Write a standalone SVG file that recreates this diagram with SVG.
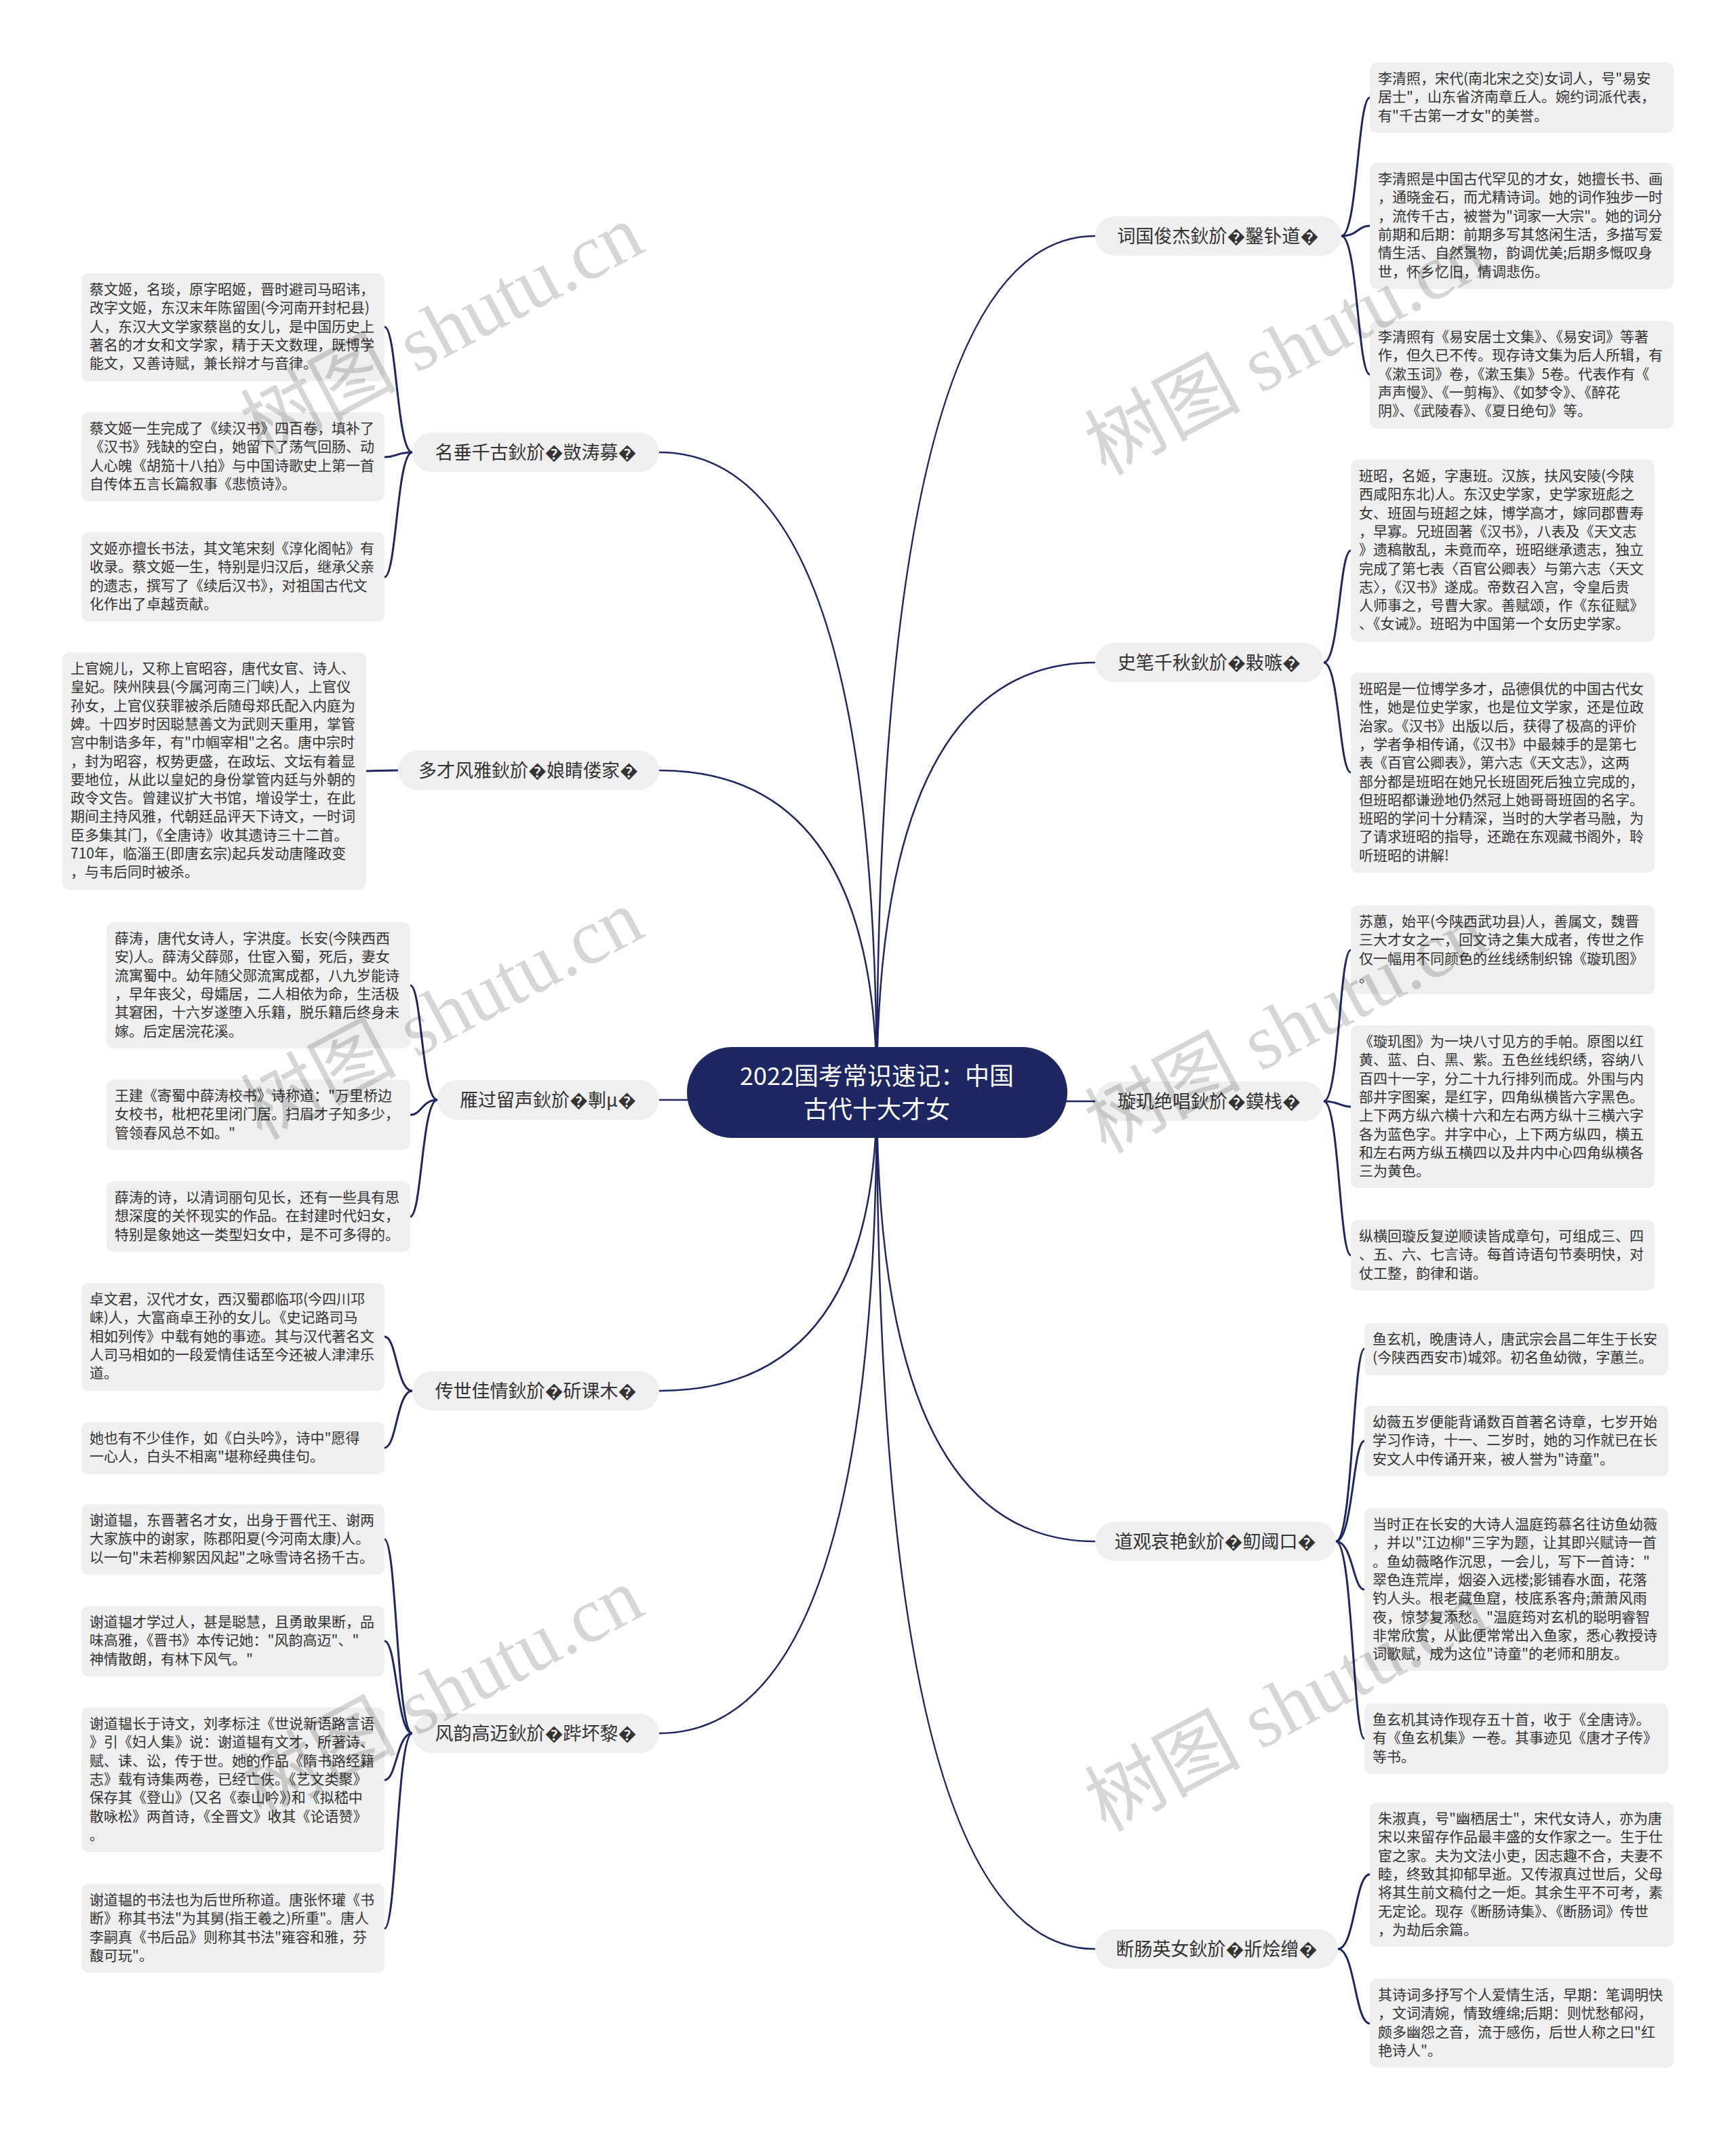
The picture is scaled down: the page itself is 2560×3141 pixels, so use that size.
<svg xmlns="http://www.w3.org/2000/svg" width="2560" height="3141" viewBox="0 0 2560 3141">
<style>
.bx{fill:#efefef}
.t{font-family:"Noto Sans CJK SC","Noto Sans",sans-serif;font-size:21px;fill:#333}
.lb{fill:#efefef}
.lt{font-family:"Noto Sans CJK SC","Noto Sans",sans-serif;font-size:27px;fill:#333;text-anchor:middle}
.c{fill:none;stroke:#1e2761;stroke-width:2.5}
.b{fill:none;stroke:#1e2761;stroke-width:3}
.wm{font-family:"Liberation Serif","Noto Sans CJK SC",serif;font-size:115px;fill:#000;fill-opacity:0.16}
</style>
<rect width="2560" height="3141" fill="#fff"/>
<g id="connectors">
<path class="c" d="M1293 1611 Q1293 348 1615 348"/>
<path class="c" d="M1293 1611 Q1293 977 1615 977"/>
<path class="c" d="M1293 1611 Q1293 1624 1615 1624"/>
<path class="c" d="M1293 1611 Q1293 2273 1615 2273"/>
<path class="c" d="M1293 1611 Q1293 2874 1615 2874"/>
<path class="c" d="M1293 1611 Q1293 667 972 667"/>
<path class="c" d="M1293 1611 Q1293 1136 972 1136"/>
<path class="c" d="M1293 1611 Q1293 1622 972 1622"/>
<path class="c" d="M1293 1611 Q1293 2051 972 2051"/>
<path class="c" d="M1293 1611 Q1293 2556 972 2556"/>
<path class="b" d="M1978 348 C2002 348 2002 144 2020 144"/>
<path class="b" d="M1978 348 C2002 348 2002 333 2020 333"/>
<path class="b" d="M1978 348 C2002 348 2002 552 2020 552"/>
<path class="b" d="M1952 977 C1975 977 1975 812 1992 812"/>
<path class="b" d="M1952 977 C1975 977 1975 1139 1992 1139"/>
<path class="b" d="M1952 1624 C1975 1624 1975 1401 1992 1401"/>
<path class="b" d="M1952 1624 C1975 1624 1975 1632 1992 1632"/>
<path class="b" d="M1952 1624 C1975 1624 1975 1851 1992 1851"/>
<path class="b" d="M1970 2273 C1995 2273 1995 1989 2012 1989"/>
<path class="b" d="M1970 2273 C1995 2273 1995 2125 2012 2125"/>
<path class="b" d="M1970 2273 C1995 2273 1995 2344 2012 2344"/>
<path class="b" d="M1970 2273 C1995 2273 1995 2564 2012 2564"/>
<path class="b" d="M1973 2874 C1998 2874 1998 2764 2020 2764"/>
<path class="b" d="M1973 2874 C1998 2874 1998 2984 2020 2984"/>
<path class="b" d="M608 667 C585 667 585 482 567 482"/>
<path class="b" d="M608 667 C585 667 585 674 567 674"/>
<path class="b" d="M608 667 C585 667 585 851 567 851"/>
<path class="b" d="M587 1136 C560 1136 560 1137 540 1137"/>
<path class="b" d="M645 1622 C622 1622 622 1453 605 1453"/>
<path class="b" d="M645 1622 C622 1622 622 1644 605 1644"/>
<path class="b" d="M645 1622 C622 1622 622 1794 605 1794"/>
<path class="b" d="M608 2051 C585 2051 585 1971 567 1971"/>
<path class="b" d="M608 2051 C585 2051 585 2135 567 2135"/>
<path class="b" d="M608 2556 C585 2556 585 2270 567 2270"/>
<path class="b" d="M608 2556 C585 2556 585 2420 567 2420"/>
<path class="b" d="M608 2556 C585 2556 585 2625 567 2625"/>
<path class="b" d="M608 2556 C585 2556 585 2844 567 2844"/>
</g>
<g id="center">
<rect x="1013" y="1544" width="561" height="134" rx="67" fill="#1e2761"/>
<text x="1293" y="1600" font-family="Noto Sans CJK SC,Noto Sans,sans-serif" font-size="36" fill="#fff" text-anchor="middle">2022国考常识速记：中国</text>
<text x="1293" y="1649" font-family="Noto Sans CJK SC,Noto Sans,sans-serif" font-size="36" fill="#fff" text-anchor="middle">古代十大才女</text>
</g>
<g id="r1">
<rect class="lb" x="1615" y="319" width="363" height="58" rx="29"/>
<text class="lt" x="1796" y="358">词国俊杰鈥斺�鑿钋道�</text>
<rect class="bx" x="2020" y="92" width="448" height="104" rx="10"/>
<text class="t" x="2032" y="123"><tspan x="2032">李清照，宋代(南北宋之交)女词人，号"易安</tspan><tspan x="2032" dy="27.3">居士"，山东省济南章丘人。婉约词派代表，</tspan><tspan x="2032" dy="27.3">有"千古第一才女"的美誉。</tspan></text>
<rect class="bx" x="2020" y="240" width="448" height="186" rx="10"/>
<text class="t" x="2032" y="271"><tspan x="2032">李清照是中国古代罕见的才女，她擅长书、画</tspan><tspan x="2032" dy="27.3">，通晓金石，而尤精诗词。她的词作独步一时</tspan><tspan x="2032" dy="27.3">，流传千古，被誉为"词家一大宗"。她的词分</tspan><tspan x="2032" dy="27.3">前期和后期：前期多写其悠闲生活，多描写爱</tspan><tspan x="2032" dy="27.3">情生活、自然景物，韵调优美;后期多慨叹身</tspan><tspan x="2032" dy="27.3">世，怀乡忆旧，情调悲伤。</tspan></text>
<rect class="bx" x="2020" y="473" width="448" height="159" rx="10"/>
<text class="t" x="2032" y="504"><tspan x="2032">李清照有《易安居士文集》、《易安词》等著</tspan><tspan x="2032" dy="27.3">作，但久已不传。现存诗文集为后人所辑，有</tspan><tspan x="2032" dy="27.3">《漱玉词》卷，《漱玉集》5卷。代表作有《</tspan><tspan x="2032" dy="27.3">声声慢》、《一剪梅》、《如梦令》、《醉花</tspan><tspan x="2032" dy="27.3">阴》、《武陵春》、《夏日绝句》等。</tspan></text>
</g>
<g id="r2">
<rect class="lb" x="1615" y="948" width="337" height="58" rx="29"/>
<text class="lt" x="1783" y="987">史笔千秋鈥斺�敤嗾�</text>
<rect class="bx" x="1992" y="678" width="448" height="268" rx="10"/>
<text class="t" x="2004" y="709"><tspan x="2004">班昭，名姬，字惠班。汉族，扶风安陵(今陕</tspan><tspan x="2004" dy="27.3">西咸阳东北)人。东汉史学家，史学家班彪之</tspan><tspan x="2004" dy="27.3">女、班固与班超之妹，博学高才，嫁同郡曹寿</tspan><tspan x="2004" dy="27.3">，早寡。兄班固著《汉书》，八表及《天文志</tspan><tspan x="2004" dy="27.3">》遗稿散乱，未竟而卒，班昭继承遗志，独立</tspan><tspan x="2004" dy="27.3">完成了第七表〈百官公卿表〉与第六志〈天文</tspan><tspan x="2004" dy="27.3">志〉，《汉书》遂成。帝数召入宫，令皇后贵</tspan><tspan x="2004" dy="27.3">人师事之，号曹大家。善赋颂，作《东征赋》</tspan><tspan x="2004" dy="27.3">、《女诫》。班昭为中国第一个女历史学家。</tspan></text>
<rect class="bx" x="1992" y="992" width="448" height="295" rx="10"/>
<text class="t" x="2004" y="1023"><tspan x="2004">班昭是一位博学多才，品德俱优的中国古代女</tspan><tspan x="2004" dy="27.3">性，她是位史学家，也是位文学家，还是位政</tspan><tspan x="2004" dy="27.3">治家。《汉书》出版以后，获得了极高的评价</tspan><tspan x="2004" dy="27.3">，学者争相传诵，《汉书》中最棘手的是第七</tspan><tspan x="2004" dy="27.3">表《百官公卿表》，第六志《天文志》，这两</tspan><tspan x="2004" dy="27.3">部分都是班昭在她兄长班固死后独立完成的，</tspan><tspan x="2004" dy="27.3">但班昭都谦逊地仍然冠上她哥哥班固的名字。</tspan><tspan x="2004" dy="27.3">班昭的学问十分精深，当时的大学者马融，为</tspan><tspan x="2004" dy="27.3">了请求班昭的指导，还跪在东观藏书阁外，聆</tspan><tspan x="2004" dy="27.3">听班昭的讲解!</tspan></text>
</g>
<g id="r3">
<rect class="lb" x="1615" y="1595" width="337" height="58" rx="29"/>
<text class="lt" x="1783" y="1634">璇玑绝唱鈥斺�鏌栈�</text>
<rect class="bx" x="1992" y="1335" width="448" height="131" rx="10"/>
<text class="t" x="2004" y="1366"><tspan x="2004">苏蕙，始平(今陕西武功县)人，善属文，魏晋</tspan><tspan x="2004" dy="27.3">三大才女之一，回文诗之集大成者，传世之作</tspan><tspan x="2004" dy="27.3">仅一幅用不同颜色的丝线绣制织锦《璇玑图》</tspan><tspan x="2004" dy="27.3">。</tspan></text>
<rect class="bx" x="1992" y="1512" width="448" height="240" rx="10"/>
<text class="t" x="2004" y="1543"><tspan x="2004">《璇玑图》为一块八寸见方的手帕。原图以红</tspan><tspan x="2004" dy="27.3">黄、蓝、白、黑、紫。五色丝线织绣，容纳八</tspan><tspan x="2004" dy="27.3">百四十一字，分二十九行排列而成。外围与内</tspan><tspan x="2004" dy="27.3">部井字图案，是红字，四角纵横皆六字黑色。</tspan><tspan x="2004" dy="27.3">上下两方纵六横十六和左右两方纵十三横六字</tspan><tspan x="2004" dy="27.3">各为蓝色字。井字中心，上下两方纵四，横五</tspan><tspan x="2004" dy="27.3">和左右两方纵五横四以及井内中心四角纵横各</tspan><tspan x="2004" dy="27.3">三为黄色。</tspan></text>
<rect class="bx" x="1992" y="1799" width="448" height="104" rx="10"/>
<text class="t" x="2004" y="1830"><tspan x="2004">纵横回璇反复逆顺读皆成章句，可组成三、四</tspan><tspan x="2004" dy="27.3">、五、六、七言诗。每首诗语句节奏明快，对</tspan><tspan x="2004" dy="27.3">仗工整，韵律和谐。</tspan></text>
</g>
<g id="r4">
<rect class="lb" x="1615" y="2244" width="355" height="58" rx="29"/>
<text class="lt" x="1792" y="2283">道观哀艳鈥斺�鱽阈口�</text>
<rect class="bx" x="2012" y="1951" width="448" height="77" rx="10"/>
<text class="t" x="2024" y="1982"><tspan x="2024">鱼玄机，晚唐诗人，唐武宗会昌二年生于长安</tspan><tspan x="2024" dy="27.3">(今陕西西安市)城郊。初名鱼幼微，字蕙兰。</tspan></text>
<rect class="bx" x="2012" y="2073" width="448" height="104" rx="10"/>
<text class="t" x="2024" y="2104"><tspan x="2024">幼薇五岁便能背诵数百首著名诗章，七岁开始</tspan><tspan x="2024" dy="27.3">学习作诗，十一、二岁时，她的习作就已在长</tspan><tspan x="2024" dy="27.3">安文人中传诵开来，被人誉为"诗童"。</tspan></text>
<rect class="bx" x="2012" y="2224" width="448" height="240" rx="10"/>
<text class="t" x="2024" y="2255"><tspan x="2024">当时正在长安的大诗人温庭筠慕名往访鱼幼薇</tspan><tspan x="2024" dy="27.3">，并以"江边柳"三字为题，让其即兴赋诗一首</tspan><tspan x="2024" dy="27.3">。鱼幼薇略作沉思，一会儿，写下一首诗："</tspan><tspan x="2024" dy="27.3">翠色连荒岸，烟姿入远楼;影铺春水面，花落</tspan><tspan x="2024" dy="27.3">钓人头。根老藏鱼窟，枝底系客舟;萧萧风雨</tspan><tspan x="2024" dy="27.3">夜，惊梦复添愁。"温庭筠对玄机的聪明睿智</tspan><tspan x="2024" dy="27.3">非常欣赏，从此便常常出入鱼家，悉心教授诗</tspan><tspan x="2024" dy="27.3">词歌赋，成为这位"诗童"的老师和朋友。</tspan></text>
<rect class="bx" x="2012" y="2512" width="448" height="104" rx="10"/>
<text class="t" x="2024" y="2543"><tspan x="2024">鱼玄机其诗作现存五十首，收于《全唐诗》。</tspan><tspan x="2024" dy="27.3">有《鱼玄机集》一卷。其事迹见《唐才子传》</tspan><tspan x="2024" dy="27.3">等书。</tspan></text>
</g>
<g id="r5">
<rect class="lb" x="1615" y="2845" width="358" height="58" rx="29"/>
<text class="lt" x="1794" y="2884">断肠英女鈥斺�斨烩缯�</text>
<rect class="bx" x="2020" y="2658" width="448" height="213" rx="10"/>
<text class="t" x="2032" y="2689"><tspan x="2032">朱淑真，号"幽栖居士"，宋代女诗人，亦为唐</tspan><tspan x="2032" dy="27.3">宋以来留存作品最丰盛的女作家之一。生于仕</tspan><tspan x="2032" dy="27.3">宦之家。夫为文法小吏，因志趣不合，夫妻不</tspan><tspan x="2032" dy="27.3">睦，终致其抑郁早逝。又传淑真过世后，父母</tspan><tspan x="2032" dy="27.3">将其生前文稿付之一炬。其余生平不可考，素</tspan><tspan x="2032" dy="27.3">无定论。现存《断肠诗集》、《断肠词》传世</tspan><tspan x="2032" dy="27.3">，为劫后余篇。</tspan></text>
<rect class="bx" x="2020" y="2918" width="448" height="131" rx="10"/>
<text class="t" x="2032" y="2949"><tspan x="2032">其诗词多抒写个人爱情生活，早期：笔调明快</tspan><tspan x="2032" dy="27.3">，文词清婉，情致缠绵;后期：则忧愁郁闷，</tspan><tspan x="2032" dy="27.3">颇多幽怨之音，流于感伤，后世人称之曰"红</tspan><tspan x="2032" dy="27.3">艳诗人"。</tspan></text>
</g>
<g id="l1">
<rect class="lb" x="608" y="638" width="364" height="58" rx="29"/>
<text class="lt" x="790" y="677">名垂千古鈥斺�敳涛募�</text>
<rect class="bx" x="120" y="403" width="447" height="159" rx="10"/>
<text class="t" x="132" y="434"><tspan x="132">蔡文姬，名琰，原字昭姬，晋时避司马昭讳，</tspan><tspan x="132" dy="27.3">改字文姬，东汉末年陈留圉(今河南开封杞县)</tspan><tspan x="132" dy="27.3">人，东汉大文学家蔡邕的女儿，是中国历史上</tspan><tspan x="132" dy="27.3">著名的才女和文学家，精于天文数理，既博学</tspan><tspan x="132" dy="27.3">能文，又善诗赋，兼长辩才与音律。</tspan></text>
<rect class="bx" x="120" y="608" width="447" height="131" rx="10"/>
<text class="t" x="132" y="639"><tspan x="132">蔡文姬一生完成了《续汉书》四百卷，填补了</tspan><tspan x="132" dy="27.3">《汉书》残缺的空白，她留下了荡气回肠、动</tspan><tspan x="132" dy="27.3">人心魄《胡笳十八拍》与中国诗歌史上第一首</tspan><tspan x="132" dy="27.3">自传体五言长篇叙事《悲愤诗》。</tspan></text>
<rect class="bx" x="120" y="785" width="447" height="131" rx="10"/>
<text class="t" x="132" y="816"><tspan x="132">文姬亦擅长书法，其文笔宋刻《淳化阁帖》有</tspan><tspan x="132" dy="27.3">收录。蔡文姬一生，特别是归汉后，继承父亲</tspan><tspan x="132" dy="27.3">的遗志，撰写了《续后汉书》，对祖国古代文</tspan><tspan x="132" dy="27.3">化作出了卓越贡献。</tspan></text>
</g>
<g id="l2">
<rect class="lb" x="587" y="1107" width="385" height="58" rx="29"/>
<text class="lt" x="779" y="1146">多才风雅鈥斺�娘睛偻家�</text>
<rect class="bx" x="92" y="962" width="448" height="350" rx="10"/>
<text class="t" x="104" y="993"><tspan x="104">上官婉儿，又称上官昭容，唐代女官、诗人、</tspan><tspan x="104" dy="27.3">皇妃。陕州陕县(今属河南三门峡)人，上官仪</tspan><tspan x="104" dy="27.3">孙女，上官仪获罪被杀后随母郑氏配入内庭为</tspan><tspan x="104" dy="27.3">婢。十四岁时因聪慧善文为武则天重用，掌管</tspan><tspan x="104" dy="27.3">宫中制诰多年，有"巾帼宰相"之名。唐中宗时</tspan><tspan x="104" dy="27.3">，封为昭容，权势更盛，在政坛、文坛有着显</tspan><tspan x="104" dy="27.3">要地位，从此以皇妃的身份掌管内廷与外朝的</tspan><tspan x="104" dy="27.3">政令文告。曾建议扩大书馆，增设学士，在此</tspan><tspan x="104" dy="27.3">期间主持风雅，代朝廷品评天下诗文，一时词</tspan><tspan x="104" dy="27.3">臣多集其门，《全唐诗》收其遗诗三十二首。</tspan><tspan x="104" dy="27.3">710年，临淄王(即唐玄宗)起兵发动唐隆政变</tspan><tspan x="104" dy="27.3">，与韦后同时被杀。</tspan></text>
</g>
<g id="l3">
<rect class="lb" x="645" y="1593" width="327" height="58" rx="29"/>
<text class="lt" x="808" y="1632">雁过留声鈥斺�剸µ�</text>
<rect class="bx" x="157" y="1360" width="448" height="186" rx="10"/>
<text class="t" x="169" y="1391"><tspan x="169">薛涛，唐代女诗人，字洪度。长安(今陕西西</tspan><tspan x="169" dy="27.3">安)人。薛涛父薛郧，仕宦入蜀，死后，妻女</tspan><tspan x="169" dy="27.3">流寓蜀中。幼年随父郧流寓成都，八九岁能诗</tspan><tspan x="169" dy="27.3">，早年丧父，母孀居，二人相依为命，生活极</tspan><tspan x="169" dy="27.3">其窘困，十六岁遂堕入乐籍，脱乐籍后终身未</tspan><tspan x="169" dy="27.3">嫁。后定居浣花溪。</tspan></text>
<rect class="bx" x="157" y="1592" width="448" height="104" rx="10"/>
<text class="t" x="169" y="1623"><tspan x="169">王建《寄蜀中薛涛校书》诗称道："万里桥边</tspan><tspan x="169" dy="27.3">女校书，枇杷花里闭门居。扫眉才子知多少，</tspan><tspan x="169" dy="27.3">管领春风总不如。"</tspan></text>
<rect class="bx" x="157" y="1742" width="448" height="104" rx="10"/>
<text class="t" x="169" y="1773"><tspan x="169">薛涛的诗，以清词丽句见长，还有一些具有思</tspan><tspan x="169" dy="27.3">想深度的关怀现实的作品。在封建时代妇女，</tspan><tspan x="169" dy="27.3">特别是象她这一类型妇女中，是不可多得的。</tspan></text>
</g>
<g id="l4">
<rect class="lb" x="608" y="2022" width="364" height="58" rx="29"/>
<text class="lt" x="790" y="2061">传世佳情鈥斺�斫课木�</text>
<rect class="bx" x="120" y="1892" width="447" height="159" rx="10"/>
<text class="t" x="132" y="1923"><tspan x="132">卓文君，汉代才女，西汉蜀郡临邛(今四川邛</tspan><tspan x="132" dy="27.3">崃)人，大富商卓王孙的女儿。《史记路司马</tspan><tspan x="132" dy="27.3">相如列传》中载有她的事迹。其与汉代著名文</tspan><tspan x="132" dy="27.3">人司马相如的一段爱情佳话至今还被人津津乐</tspan><tspan x="132" dy="27.3">道。</tspan></text>
<rect class="bx" x="120" y="2097" width="447" height="77" rx="10"/>
<text class="t" x="132" y="2128"><tspan x="132">她也有不少佳作，如《白头吟》，诗中"愿得</tspan><tspan x="132" dy="27.3">一心人，白头不相离"堪称经典佳句。</tspan></text>
</g>
<g id="l5">
<rect class="lb" x="608" y="2527" width="364" height="58" rx="29"/>
<text class="lt" x="790" y="2566">风韵高迈鈥斺�跸坏黎�</text>
<rect class="bx" x="120" y="2218" width="447" height="104" rx="10"/>
<text class="t" x="132" y="2249"><tspan x="132">谢道韫，东晋著名才女，出身于晋代王、谢两</tspan><tspan x="132" dy="27.3">大家族中的谢家，陈郡阳夏(今河南太康)人。</tspan><tspan x="132" dy="27.3">以一句"未若柳絮因风起"之咏雪诗名扬千古。</tspan></text>
<rect class="bx" x="120" y="2368" width="447" height="104" rx="10"/>
<text class="t" x="132" y="2399"><tspan x="132">谢道韫才学过人，甚是聪慧，且勇敢果断，品</tspan><tspan x="132" dy="27.3">味高雅，《晋书》本传记她："风韵高迈"、"</tspan><tspan x="132" dy="27.3">神情散朗，有林下风气。"</tspan></text>
<rect class="bx" x="120" y="2518" width="447" height="213" rx="10"/>
<text class="t" x="132" y="2549"><tspan x="132">谢道韫长于诗文，刘孝标注《世说新语路言语</tspan><tspan x="132" dy="27.3">》引《妇人集》说：谢道韫有文才，所著诗、</tspan><tspan x="132" dy="27.3">赋、诔、讼，传于世。她的作品《隋书路经籍</tspan><tspan x="132" dy="27.3">志》载有诗集两卷，已经亡佚。《艺文类聚》</tspan><tspan x="132" dy="27.3">保存其《登山》(又名《泰山吟》)和《拟嵇中</tspan><tspan x="132" dy="27.3">散咏松》两首诗，《全晋文》收其《论语赞》</tspan><tspan x="132" dy="27.3">。</tspan></text>
<rect class="bx" x="120" y="2778" width="447" height="131" rx="10"/>
<text class="t" x="132" y="2809"><tspan x="132">谢道韫的书法也为后世所称道。唐张怀瓘《书</tspan><tspan x="132" dy="27.3">断》称其书法"为其舅(指王羲之)所重"。唐人</tspan><tspan x="132" dy="27.3">李嗣真《书后品》则称其书法"雍容和雅，芬</tspan><tspan x="132" dy="27.3">馥可玩"。</tspan></text>
</g>
<g id="watermarks">
<text class="wm" transform="translate(385 672) rotate(-28)">树图 shutu.cn</text>
<text class="wm" transform="translate(385 1682) rotate(-28)">树图 shutu.cn</text>
<text class="wm" transform="translate(385 2682) rotate(-28)">树图 shutu.cn</text>
<text class="wm" transform="translate(1630 702) rotate(-28)">树图 shutu.cn</text>
<text class="wm" transform="translate(1630 1702) rotate(-28)">树图 shutu.cn</text>
<text class="wm" transform="translate(1630 2702) rotate(-28)">树图 shutu.cn</text>
</g>
</svg>
